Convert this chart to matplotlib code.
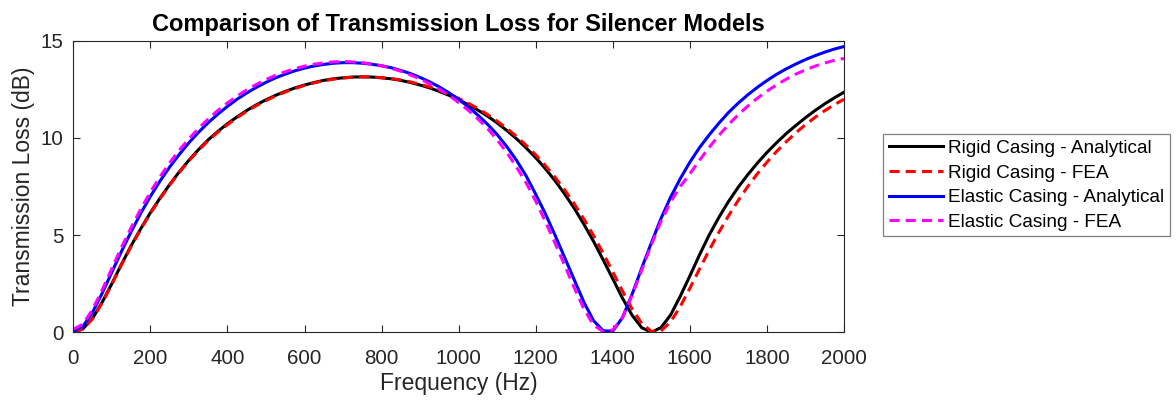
import numpy as np
import matplotlib
matplotlib.use("Agg")
import matplotlib.pyplot as plt

plt.rcParams["font.family"] = ["Liberation Sans", "DejaVu Sans"]

# frequency grid (Hz), values every 25 Hz
freq = np.arange(0, 2001, 25)

rigid_analytical = [
    0.00, 0.18, 0.72, 1.55, 2.50, 3.50, 4.45, 5.33, 6.15, 6.90, 7.60, 8.25, 8.85, 9.40,
    9.90, 10.33, 10.73, 11.08, 11.41, 11.70, 11.96, 12.19, 12.39, 12.57, 12.72, 12.85, 12.96, 13.04,
    13.09, 13.13, 13.14, 13.13, 13.09, 13.04, 12.96, 12.85, 12.72, 12.57, 12.39, 12.19, 11.96, 11.71,
    11.43, 11.12, 10.77, 10.38, 9.96, 9.49, 8.98, 8.42, 7.80, 7.12, 6.38, 5.56, 4.68, 3.73,
    2.75, 1.76, 0.88, 0.24, 0.00, 0.24, 0.89, 1.85, 2.90, 3.98, 5.00, 5.90, 6.72, 7.45,
    8.10, 8.70, 9.25, 9.75, 10.22, 10.64, 11.04, 11.41, 11.75, 12.06, 12.35]

rigid_fea = [
    0.00, 0.16, 0.70, 1.52, 2.47, 3.47, 4.42, 5.30, 6.12, 6.87, 7.57, 8.22, 8.82, 9.36,
    9.86, 10.29, 10.68, 11.04, 11.37, 11.66, 11.92, 12.16, 12.36, 12.54, 12.70, 12.83, 12.94, 13.02,
    13.08, 13.12, 13.14, 13.13, 13.10, 13.05, 12.98, 12.88, 12.76, 12.62, 12.45, 12.25, 12.03, 11.78,
    11.51, 11.20, 10.86, 10.49, 10.08, 9.62, 9.13, 8.58, 7.98, 7.33, 6.61, 5.83, 4.98, 4.07,
    3.11, 2.13, 1.21, 0.46, 0.05, 0.07, 0.54, 1.32, 2.26, 3.25, 4.22, 5.13, 5.98, 6.77,
    7.49, 8.15, 8.75, 9.30, 9.80, 10.26, 10.68, 11.06, 11.40, 11.71, 11.99]

elastic_analytical = [
    0.05, 0.31, 1.03, 2.01, 3.09, 4.16, 5.17, 6.12, 6.99, 7.78, 8.50, 9.15, 9.75, 10.29,
    10.78, 11.22, 11.62, 11.99, 12.31, 12.60, 12.86, 13.09, 13.28, 13.45, 13.59, 13.70, 13.78, 13.84,
    13.87, 13.87, 13.84, 13.79, 13.71, 13.61, 13.47, 13.31, 13.11, 12.88, 12.62, 12.32, 11.98, 11.60,
    11.17, 10.70, 10.17, 9.55, 8.85, 8.05, 7.10, 6.10, 5.00, 3.85, 2.70, 1.55, 0.60, 0.08,
    0.06, 0.75, 1.95, 3.30, 4.60, 5.85, 6.95, 7.90, 8.75, 9.50, 10.15, 10.75, 11.30, 11.78,
    12.21, 12.60, 12.95, 13.27, 13.55, 13.80, 14.03, 14.23, 14.41, 14.57, 14.70]

elastic_fea = [
    0.15, 0.42, 1.17, 2.18, 3.28, 4.37, 5.38, 6.34, 7.21, 8.00, 8.72, 9.37, 9.95, 10.49,
    10.97, 11.41, 11.80, 12.15, 12.47, 12.75, 13.00, 13.22, 13.40, 13.56, 13.69, 13.79, 13.86, 13.91,
    13.93, 13.91, 13.87, 13.80, 13.71, 13.58, 13.43, 13.24, 13.03, 12.78, 12.50, 12.18, 11.82, 11.42,
    10.98, 10.48, 9.90, 9.25, 8.50, 7.70, 6.75, 5.70, 4.60, 3.45, 2.30, 1.20, 0.38, 0.03,
    0.12, 0.75, 1.90, 3.20, 4.50, 5.70, 6.70, 7.50, 8.15, 8.85, 9.51, 10.12, 10.68, 11.18,
    11.63, 12.04, 12.40, 12.73, 13.02, 13.28, 13.50, 13.69, 13.85, 13.99, 14.09]

labels = ["Rigid Casing - Analytical", "Rigid Casing - FEA",
          "Elastic Casing - Analytical", "Elastic Casing - FEA"]

axcol = "#262626"
fig = plt.figure(figsize=(11.76, 4.01), dpi=100)
ax = fig.add_axes([73.3 / 1176, 1 - 332.3 / 401, 770.7 / 1176, 291.6 / 401])

lw = 2.2
dash = (3.3, 2.0)
ax.plot(freq, rigid_analytical, color="#000000", lw=lw, label=labels[0])
ax.plot(freq, rigid_fea, color="#ff0000", lw=lw, dashes=dash, label=labels[1])
ax.plot(freq, elastic_analytical, color="#0000ff", lw=lw, label=labels[2])
ax.plot(freq, elastic_fea, color="#ff00ff", lw=lw, dashes=dash, label=labels[3])

ax.set_xlim(0, 2000)
ax.set_ylim(0, 15)
ax.set_xticks(np.arange(0, 2001, 200))
ax.set_yticks([0, 5, 10, 15])
ax.tick_params(direction="in", length=5, width=0.8, top=True, right=True,
               labelsize=14.8, colors=axcol)
ax.tick_params(axis="x", pad=12)
ax.tick_params(axis="y", pad=7)
for s in ax.spines.values():
    s.set_color(axcol)
    s.set_linewidth(0.8)

ax.set_title("Comparison of Transmission Loss for Silencer Models",
             fontsize=17, fontweight="bold", pad=7)
ax.set_xlabel("Frequency (Hz)", fontsize=16.5, color=axcol, labelpad=3)
ax.set_ylabel("Transmission Loss (dB)", fontsize=16.5, color=axcol, labelpad=4)

leg = ax.legend(loc="center left", bbox_to_anchor=(883 / 1176, 1 - 185.3 / 401),
                bbox_transform=fig.transFigure, fontsize=13.7, frameon=True,
                fancybox=False, framealpha=1, edgecolor="#808080",
                handlelength=2.85, handletextpad=0.25, labelspacing=0.38,
                borderpad=0.3, borderaxespad=0)
leg.get_frame().set_linewidth(0.9)

fig.savefig("out.png")
